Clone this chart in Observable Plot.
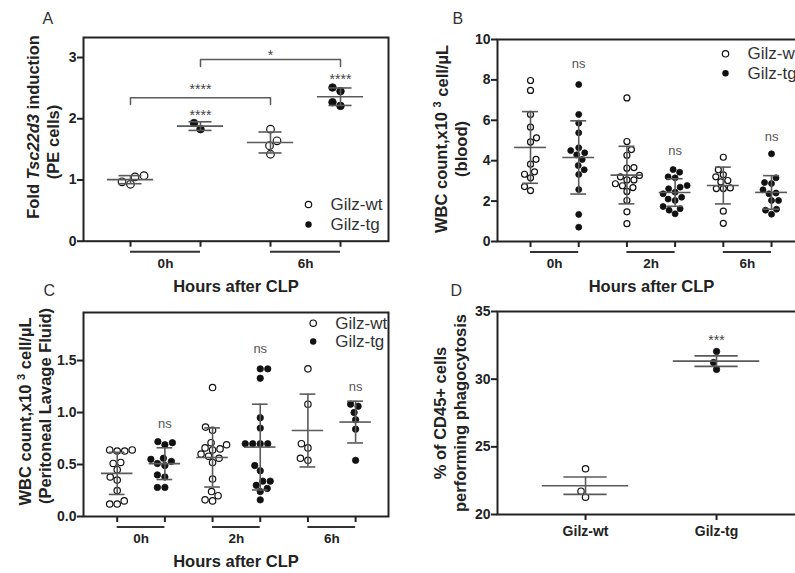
<!DOCTYPE html>
<html><head><meta charset="utf-8">
<script src="https://cdn.jsdelivr.net/npm/d3@7"></script>
<script src="https://cdn.jsdelivr.net/npm/@observablehq/plot@0.6"></script>
<style>
html,body{margin:0;padding:0;background:#fff;}
#root{position:relative;width:795px;height:573px;overflow:hidden;background:#fff;}
#root > div{position:absolute;}
#root svg{overflow:visible;display:block;max-width:none;}
#root svg [aria-label^="x-axis"] line, #root svg [aria-label^="x-axis"] path,
#root svg [aria-label^="y-axis"] line, #root svg [aria-label^="y-axis"] path{stroke-width:2px;}
</style></head>
<body><div id="root"></div>
<script>
// ---------------- DATA ----------------
const genotypes = ["Gilz-wt", "Gilz-tg"];
const xTitle = "Hours after CLP";

// Panel A: Fold Tsc22d3 induction (PE cells)
const aTimes = ["0h", "6h"];
const aYTicks = [0, 1, 2, 3];
const aWt0h = [1.05, 0.93, 0.97, 1.07];
const aTg0h = [1.83, 1.93];
const aWt6h = [1.83, 1.64, 1.56, 1.42];
const aTg6h = [2.51, 2.45, 2.27, 2.21];
const aStars = [{g: 1, y: 2.107, t: "****"}, {g: 3, y: 2.706, t: "****"}];
const aBrackets = [
  {g1: 0, g2: 2, y: 2.342, y0: 2.233, ty: 2.53, t: "****"},
  {g1: 1, g2: 3, y: 2.967, y0: 2.853, ty: 3.087, t: "*"}
];

// Panel B: WBC count blood
const bTimes = ["0h", "2h", "6h"];
const bYTicks = [0, 2, 4, 6, 8, 10];
const bWt0h = [7.97, 7.48, 6.29, 5.66, 5.13, 4.93, 4.07, 3.83, 3.45, 3.33, 3.15, 2.72, 2.52];
const bTg0h = [7.77, 6.29, 5.86, 5.38, 4.64, 4.39, 4.29, 4.50, 4.06, 3.76, 3.55, 3.32, 2.57, 1.34, 0.71];
const bWt2h = [7.11, 4.95, 4.55, 4.27, 3.66, 3.63, 3.27, 3.20, 3.05, 3.05, 2.86, 2.76, 2.67, 2.48, 2.03, 1.47, 0.88];
const bTg2h = [3.56, 3.43, 3.20, 3.15, 2.77, 2.69, 2.61, 2.44, 2.36, 2.19, 2.10, 2.03, 1.73, 1.62, 1.55, 1.37];
const bWt6h = [4.17, 3.55, 3.30, 3.20, 3.02, 2.95, 2.65, 2.62, 2.62, 1.50, 0.90];
const bTg6h = [4.34, 3.15, 2.92, 2.87, 2.56, 2.40, 2.36, 2.03, 2.03, 1.60, 1.55, 1.35];
const bNs = [{g: 1, y: 8.81, t: "ns"}, {g: 3, y: 4.50, t: "ns"}, {g: 5, y: 5.16, t: "ns"}];

// Panel C: WBC count peritoneal lavage fluid
const cTimes = ["0h", "2h", "6h"];
const cYTicks = [0, 0.5, 1, 1.5];
const cWt0h = [0.64, 0.63, 0.63, 0.64, 0.52, 0.51, 0.45, 0.38, 0.35, 0.25, 0.15, 0.12, 0.12];
const cTg0h = [0.71, 0.69, 0.72, 0.56, 0.53, 0.51, 0.49, 0.55, 0.40, 0.38, 0.28, 0.28];
const cWt2h = [1.24, 0.86, 0.83, 0.71, 0.69, 0.66, 0.65, 0.64, 0.60, 0.58, 0.56, 0.52, 0.36, 0.24, 0.20, 0.16, 0.15];
const cTg2h = [1.42, 1.42, 1.33, 0.95, 0.85, 0.70, 0.70, 0.70, 0.70, 0.49, 0.44, 0.34, 0.34, 0.30, 0.27, 0.24, 0.16];
const cWt6h = [1.42, 1.08, 0.70, 0.66, 0.54, 0.56];
const cTg6h = [1.08, 1.06, 1.00, 0.93, 0.84, 0.54];
const cNs = [{g: 1, y: 0.891, t: "ns"}, {g: 3, y: 1.612, t: "ns"}, {g: 5, y: 1.25, t: "ns"}];

// Panel D: % of CD45+ cells performing phagocytosis
const dYTicks = [20, 25, 30, 35];
const dWt = [23.38, 21.72, 21.28];
const dTg = [32.05, 31.23, 30.72];
const dStars = [{g: 1, y: 33.10, t: "***"}];

// ---------------- HELPERS ----------------
const FONT = "Arial, 'Liberation Sans', Helvetica, sans-serif";
const INK = "#222";
const LINE = "#5a5a5a";

function swarm(values, ky, r) {
  const order = d3.range(values.length).sort((a, b) => values[a] - values[b]);
  const placed = [], off = new Array(values.length);
  const D2 = (2 * r + 1) ** 2;
  order.forEach((i, k) => {
    const y = values[i] * ky;
    const sign = k % 2 ? -1 : 1;
    for (let s = 0; s < 400; s += 0.5) {
      const c = [sign * s, -sign * s].find(x => placed.every(p => (p.x - x) ** 2 + (p.y - y) ** 2 >= D2));
      if (c !== undefined) { off[i] = c; placed.push({x: c, y}); break; }
    }
  });
  return off;
}

function timeGroupsFrom(times, per) {
  return times.map((t, i) => ({g1: i * per, g2: i * per + per - 1, label: t}));
}

function panel(cfg) {
  const {left, top, width, height, ml, mr, mt, mb, xd, yd, yTicks, yFormat, groups, r, sem} = cfg;
  const kx = (width - ml - mr) / (xd[1] - xd[0]);
  const ky = (height - mt - mb) / (yd[1] - yd[0]);
  const rows = [], stats = [];
  for (const grp of groups) {
    const off = swarm(grp.values, ky, r);
    grp.values.forEach((v, i) => rows.push({g: grp.g, x: grp.g + off[i] / kx, v, wt: grp.wt}));
    const m = d3.mean(grp.values), sd = d3.deviation(grp.values);
    const e = sem ? sd / Math.sqrt(grp.values.length) : sd;
    stats.push({g: grp.g, m, lo: m - e, hi: m + e});
  }
  const marks = [
    Plot.dot(rows.filter(d => d.wt), {x: "x", y: "v", r, fill: "white", stroke: "#111", strokeWidth: 1.2}),
    Plot.dot(rows.filter(d => !d.wt), {x: "x", y: "v", r, fill: "#111", stroke: "#111", strokeWidth: 0.8}),
    Plot.ruleY(stats, {y: "m", x1: d => d.g - 0.33, x2: d => d.g + 0.33, stroke: LINE, strokeWidth: 1.6}),
    Plot.ruleY(stats, {y: "lo", x1: d => d.g - 0.165, x2: d => d.g + 0.165, stroke: LINE, strokeWidth: 1.6}),
    Plot.ruleY(stats, {y: "hi", x1: d => d.g - 0.165, x2: d => d.g + 0.165, stroke: LINE, strokeWidth: 1.6}),
    Plot.ruleX(stats, {x: "g", y1: "lo", y2: "hi", stroke: LINE, strokeWidth: 1.6}),
    Plot.frame({stroke: INK, strokeWidth: 2}),
    Plot.text([cfg.letter], {frameAnchor: "top-left", lineAnchor: "middle", dx: cfg.letterPos[0], dy: cfg.letterPos[1], text: d => d,
      fontSize: 16, fontWeight: "normal", fill: "#333"})
  ];
  if (cfg.timeGroups) {
    marks.push(
      Plot.ruleY(cfg.timeGroups, {y: () => yd[0], x1: "g1", x2: "g2", dy: 10.5, stroke: "#333", strokeWidth: 2}),
      Plot.text(cfg.timeGroups, {x: d => (d.g1 + d.g2) / 2, frameAnchor: "bottom", lineAnchor: "middle", dy: 22.5, text: "label",
        fontSize: 13.5, fontWeight: "bold"}),
      Plot.text([xTitle], {frameAnchor: "bottom", lineAnchor: "middle", dy: 45.5, text: d => d, fontSize: 16.5, fontWeight: "bold"})
    );
  }
  if (cfg.stars) {
    marks.push(Plot.text(cfg.stars, {x: "g", y: "y", text: "t", lineAnchor: "middle", dy: 3.5, fontSize: 14, fontWeight: "normal", fill: "#444"}));
  }
  if (cfg.ns) {
    marks.push(Plot.text(cfg.ns, {x: "g", y: "y", text: "t", lineAnchor: "middle", fontSize: 13, fontWeight: "normal", fill: "#555"}));
  }
  if (cfg.brackets) {
    const segs = [];
    cfg.brackets.forEach((b, i) => {
      segs.push({k: i, x: b.g1, y: b.y0}, {k: i, x: b.g1, y: b.y}, {k: i, x: b.g2, y: b.y}, {k: i, x: b.g2, y: b.y0});
    });
    marks.push(
      Plot.line(segs, {x: "x", y: "y", z: "k", stroke: LINE, strokeWidth: 1.5}),
      Plot.text(cfg.brackets, {x: d => (d.g1 + d.g2) / 2, y: "ty", text: "t", lineAnchor: "middle", dy: 3.5, fontSize: 14, fontWeight: "normal", fill: "#444"})
    );
  }
  if (cfg.legend) {
    const [lx, ly, gap] = cfg.legend;
    marks.push(
      Plot.dot([genotypes[0]], {frameAnchor: "top-left", dx: lx, dy: ly, r: 3.2, fill: "white", stroke: "#111", strokeWidth: 1.2}),
      Plot.dot([genotypes[1]], {frameAnchor: "top-left", dx: lx, dy: ly + gap, r: 3.2, fill: "#111"}),
      Plot.text([genotypes[0]], {frameAnchor: "top-left", lineAnchor: "middle", dx: lx + 22, dy: ly, text: d => d, textAnchor: "start",
        fontSize: 17, fontWeight: "normal", fill: "#333"}),
      Plot.text([genotypes[1]], {frameAnchor: "top-left", lineAnchor: "middle", dx: lx + 22, dy: ly + gap, text: d => d, textAnchor: "start",
        fontSize: 17, fontWeight: "normal", fill: "#333"})
    );
  }
  const svg = Plot.plot({
    width, height, marginLeft: ml, marginRight: mr, marginTop: mt, marginBottom: mb,
    style: {fontFamily: FONT, fontSize: "14px", fontWeight: "bold", color: INK, background: "transparent", overflow: "visible"},
    x: {domain: xd, ticks: cfg.xTicks, tickFormat: cfg.xFormat, tickSize: 6, tickPadding: cfg.xPad || 3, label: null},
    y: {domain: yd, ticks: yTicks, tickFormat: yFormat, tickSize: 6, tickPadding: 1, label: null},
    marks
  });
  // rotated multi-line y-axis title
  const s = d3.select(svg);
  for (const ln of cfg.ylabel) {
    const t = s.append("text")
      .attr("transform", `translate(${ln.x},${ln.y}) rotate(-90)`)
      .attr("text-anchor", "middle").attr("dy", "0.35em")
      .attr("font-family", FONT).attr("font-size", 16.5).attr("font-weight", "bold").attr("fill", INK);
    for (const p of ln.parts) {
      const ts = t.append("tspan").text(p.t);
      if (p.italic) ts.attr("font-style", "italic");
      if (p.sup) ts.attr("font-size", 11).attr("dy", "-0.55em");
      if (p.after) ts.attr("dy", "0.38em");
    }
  }
  const div = document.createElement("div");
  div.style.left = left + "px"; div.style.top = top + "px";
  div.style.width = width + "px"; div.style.height = height + "px";
  div.appendChild(svg);
  document.getElementById("root").appendChild(div);
}

const wbcParts = [{t: "WBC count,x10 "}, {t: "3", sup: true}, {t: " cell/µL", after: true}];

// ---------------- PANELS ----------------
panel({
  letter: "A", letterPos: [-41, -19],
  left: 0, top: 0, width: 400, height: 280, ml: 83, mr: 12, mt: 37, mb: 39.3,
  xd: [-0.6714, 3.6857], yd: [0, 3.327], yTicks: aYTicks, yFormat: d3.format("d"),
  xTicks: [0, 1, 2, 3], xFormat: () => "", r: 3.8,
  groups: [
    {g: 0, wt: true, values: aWt0h}, {g: 1, wt: false, values: aTg0h},
    {g: 2, wt: true, values: aWt6h}, {g: 3, wt: false, values: aTg6h}
  ],
  timeGroups: timeGroupsFrom(aTimes, 2),
  stars: aStars, brackets: aBrackets,
  legend: [225, 167, 20],
  ylabel: [
    {x: 33, y: 127, parts: [{t: "Fold "}, {t: "Tsc22d3", italic: true}, {t: " induction"}]},
    {x: 53, y: 142, parts: [{t: "(PE cells)"}]}
  ]
});

panel({
  letter: "B", letterPos: [-45, -21],
  left: 400, top: 0, width: 410, height: 280, ml: 97, mr: 5, mt: 39, mb: 39,
  xd: [-0.685, 5.705], yd: [0, 10], yTicks: bYTicks, yFormat: d3.format("d"),
  xTicks: [0, 1, 2, 3, 4, 5], xFormat: () => "", r: 3,
  groups: [
    {g: 0, wt: true, values: bWt0h}, {g: 1, wt: false, values: bTg0h},
    {g: 2, wt: true, values: bWt2h}, {g: 3, wt: false, values: bTg2h},
    {g: 4, wt: true, values: bWt6h}, {g: 5, wt: false, values: bTg6h}
  ],
  timeGroups: timeGroupsFrom(bTimes, 2),
  ns: bNs,
  legend: [228, 14.3, 19.4],
  ylabel: [
    {x: 41.7, y: 139, parts: wbcParts},
    {x: 61.7, y: 149, parts: [{t: "(blood)"}]}
  ]
});

panel({
  letter: "C", letterPos: [-40, -22],
  left: 0, top: 280, width: 400, height: 293, ml: 83, mr: 12, mt: 32, mb: 57,
  xd: [-0.707, 5.69], yd: [0, 1.962], yTicks: cYTicks, yFormat: d3.format(".1f"),
  xTicks: [0, 1, 2, 3, 4, 5], xFormat: () => "", r: 3.2,
  groups: [
    {g: 0, wt: true, values: cWt0h}, {g: 1, wt: false, values: cTg0h},
    {g: 2, wt: true, values: cWt2h}, {g: 3, wt: false, values: cTg2h},
    {g: 4, wt: true, values: cWt6h}, {g: 5, wt: false, values: cTg6h}
  ],
  timeGroups: timeGroupsFrom(cTimes, 2),
  ns: cNs,
  legend: [229.7, 10.7, 18.3],
  ylabel: [
    {x: 25, y: 131.5, parts: wbcParts},
    {x: 45, y: 126, parts: [{t: "(Peritoneal Lavage Fluid)"}]}
  ]
});

panel({
  letter: "D", letterPos: [-47, -21],
  left: 400, top: 280, width: 410, height: 293, ml: 97, mr: 5, mt: 31, mb: 59,
  xd: [-0.672, 1.679], yd: [20, 35], yTicks: dYTicks, yFormat: d3.format("d"),
  xTicks: [0, 1], xFormat: i => genotypes[i], xPad: 6, r: 3.2, sem: true,
  groups: [{g: 0, wt: true, values: dWt}, {g: 1, wt: false, values: dTg}],
  stars: dStars,
  ylabel: [
    {x: 40, y: 133, parts: [{t: "% of CD45+ cells"}]},
    {x: 60, y: 133, parts: [{t: "performing phagocytosis"}]}
  ]
});
</script>
</body></html>
